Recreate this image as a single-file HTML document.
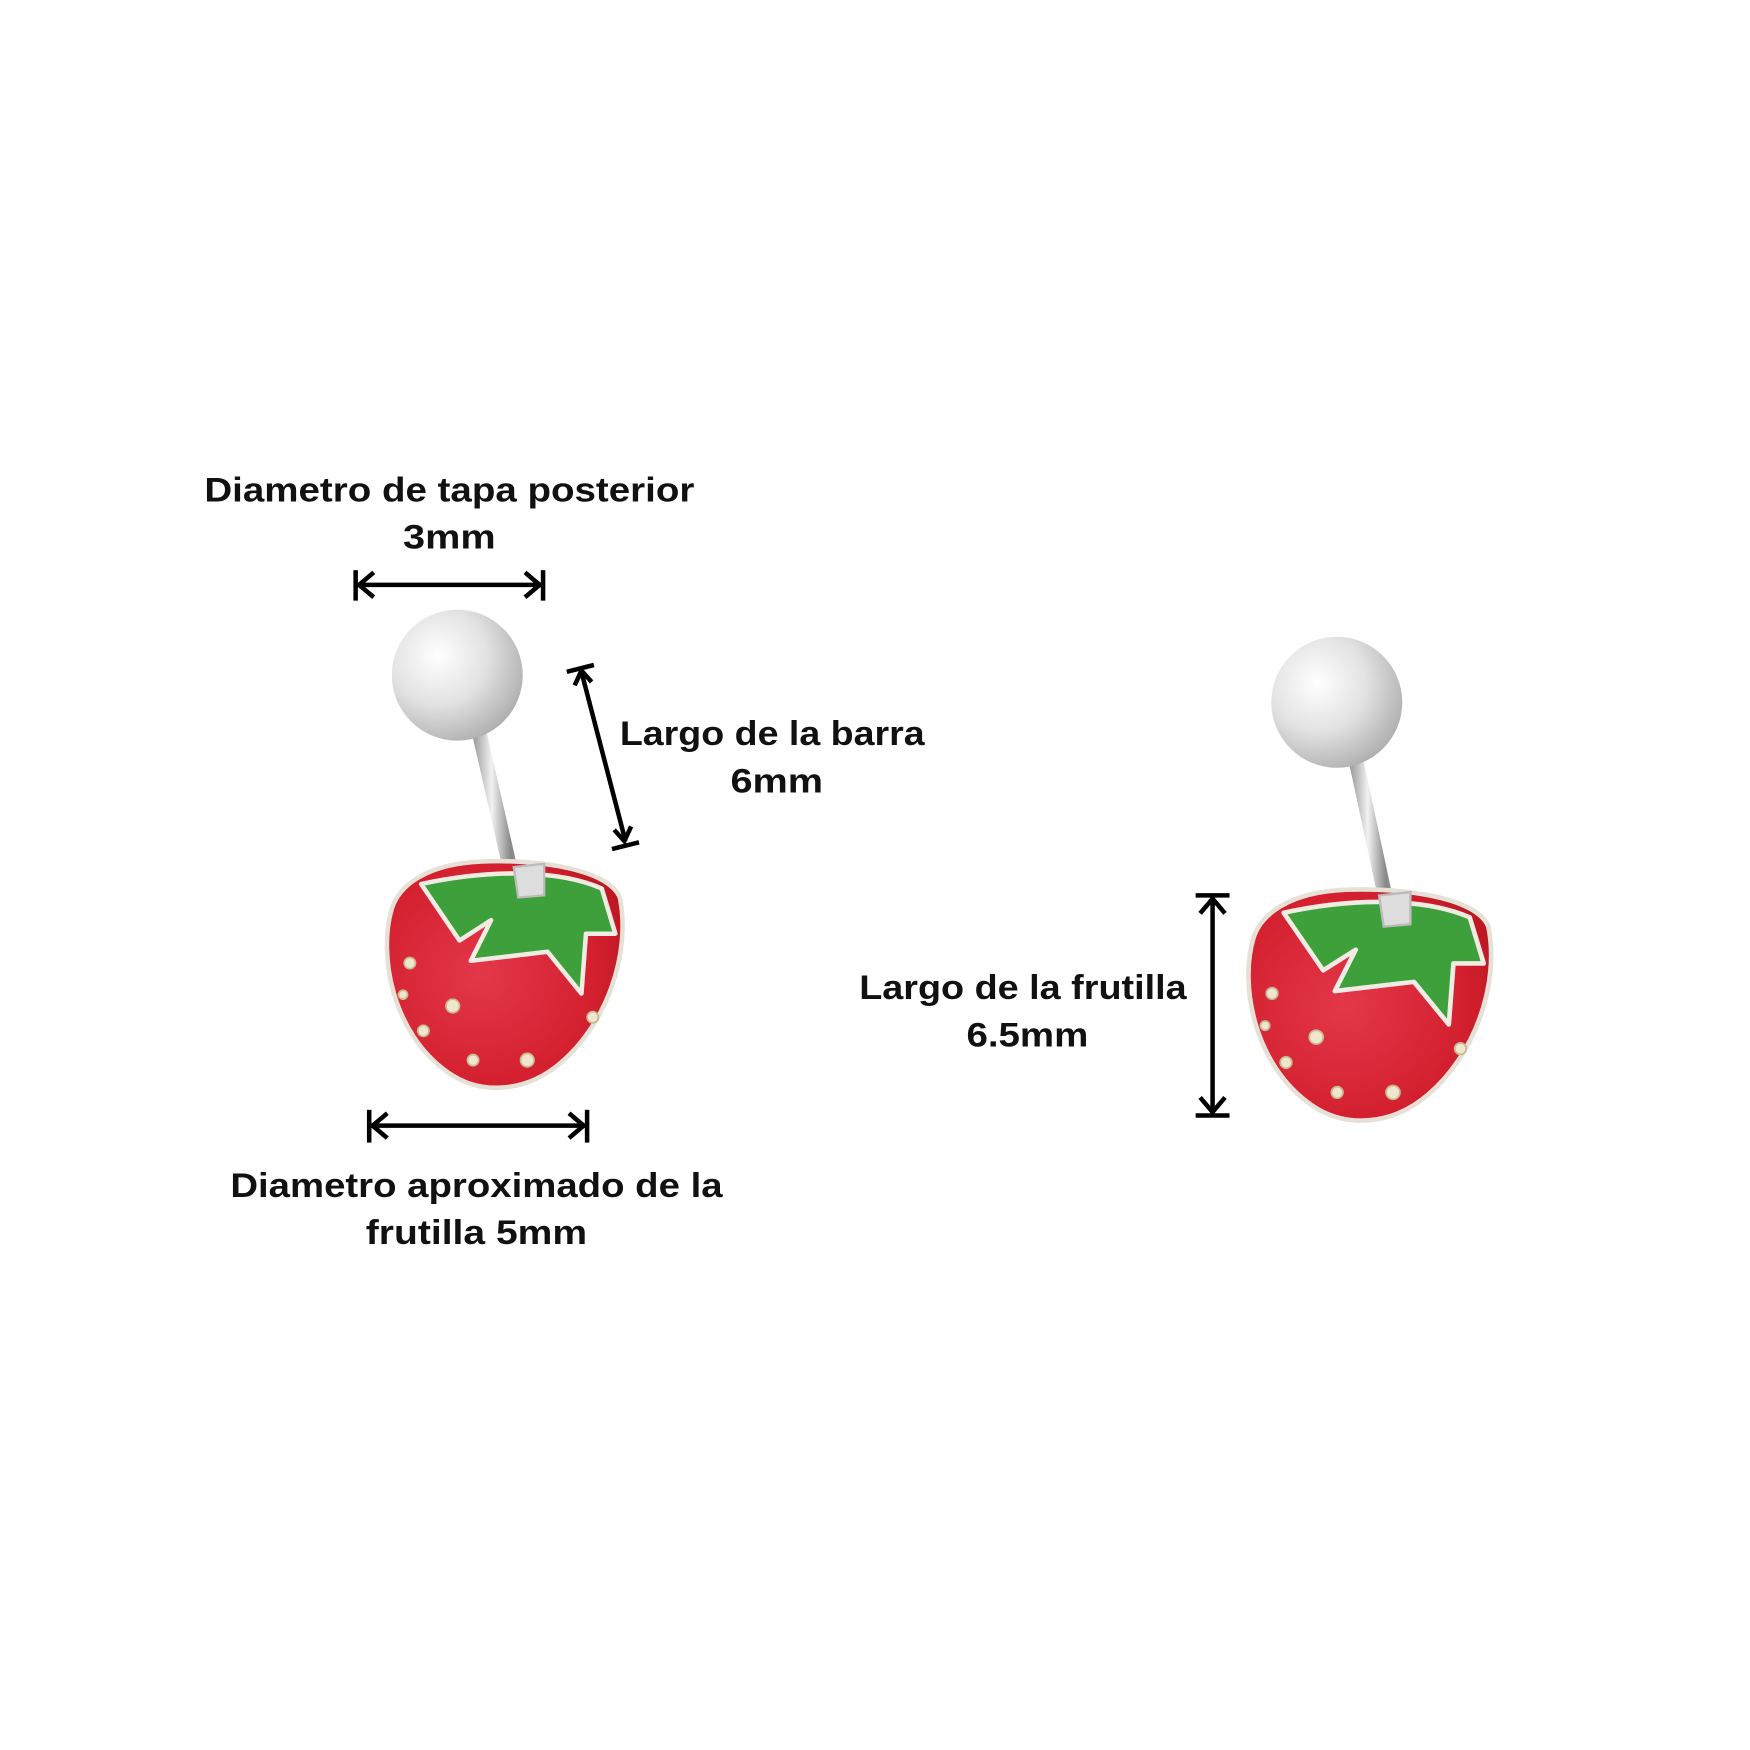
<!DOCTYPE html>
<html><head><meta charset="utf-8"><style>
html,body{margin:0;padding:0;background:#fff}
svg{display:block}
text{font-family:"Liberation Sans",sans-serif;font-weight:bold;font-size:30px;fill:#111;text-anchor:middle}
</style></head><body>
<svg width="1750" height="1750" viewBox="0 0 1550 1550" xmlns="http://www.w3.org/2000/svg">
<defs>
<radialGradient id="ball" cx="0.35" cy="0.35" r="0.75">
<stop offset="0" stop-color="#ffffff"/><stop offset="0.5" stop-color="#e2e2e2"/><stop offset="1" stop-color="#a9a9a9"/>
</radialGradient>
<linearGradient id="bar" x1="0" y1="0" x2="1" y2="0">
<stop offset="0" stop-color="#9a9a9a"/><stop offset="0.5" stop-color="#f2f2f2"/><stop offset="1" stop-color="#8a8a8a"/>
</linearGradient>
<radialGradient id="red" cx="0.4" cy="0.5" r="0.7">
<stop offset="0" stop-color="#e4374a"/><stop offset="0.7" stop-color="#d3202f"/><stop offset="1" stop-color="#b8151f"/>
</radialGradient>
<g id="berry">
<path d="M350 810 C338 850 350 920 400 955 C430 976 470 972 500 946 C540 912 562 850 552 800 C542 775 480 766 430 768 C380 770 356 790 350 810 Z" fill="url(#red)" stroke="#e6e0d6" stroke-width="4"/>
<path d="M376 788 L410 838 L438 820 L420 856 L488 848 L518 885 L522 832 L548 832 L536 792 C500 776 440 774 376 788 Z" fill="#3da03a" stroke="#f0ece4" stroke-width="4" stroke-linejoin="round"/>
<path d="M458 773 L462 800 L485 798 L485 770 Z" fill="#ddd" stroke="#bbb" stroke-width="2"/>
<g fill="#efe6cf" stroke="#c9b98f" stroke-width="1.5">
<circle cx="366" cy="858" r="5"/><circle cx="404" cy="896" r="6"/><circle cx="378" cy="918" r="5"/>
<circle cx="422" cy="944" r="5"/><circle cx="470" cy="944" r="6"/><circle cx="528" cy="906" r="5"/>
<circle cx="360" cy="886" r="4"/>
</g>
</g>
</defs>
<g transform="translate(-3,-5)">
<text x="401" y="449" textLength="434" lengthAdjust="spacingAndGlyphs">Diametro de tapa posterior</text>
<text x="401" y="491" textLength="82" lengthAdjust="spacingAndGlyphs">3mm</text>
<g stroke="#000" stroke-width="4" fill="none">
<line x1="320" y1="523" x2="482" y2="523"/>
<line x1="318" y1="510" x2="318" y2="537"/><line x1="484" y1="510" x2="484" y2="537"/>
<polyline points="334,512 321,523 334,534"/><polyline points="468,512 481,523 468,534"/>
</g>

<line x1="422" y1="630" x2="455" y2="775" stroke="url(#bar)" stroke-width="13"/>
<circle cx="408" cy="603" r="58" fill="url(#ball)"/>
<use href="#berry"/>

<g stroke="#000" stroke-width="4" fill="none">
<line x1="518" y1="600" x2="557" y2="750"/>
<line x1="505" y1="600" x2="529" y2="594"/><line x1="545" y1="757" x2="569" y2="751"/>
<polyline points="512,612 518,599 527,609"/><polyline points="547,740 556,750 562,737"/>
</g>
<text x="687" y="665" textLength="270" lengthAdjust="spacingAndGlyphs">Largo de la barra</text>
<text x="691" y="707" textLength="82" lengthAdjust="spacingAndGlyphs">6mm</text>

<g stroke="#000" stroke-width="4" fill="none">
<line x1="332" y1="1002" x2="521" y2="1002"/>
<line x1="330" y1="988" x2="330" y2="1017"/><line x1="523" y1="988" x2="523" y2="1017"/>
<polyline points="346,991 333,1002 346,1013"/><polyline points="507,991 520,1002 507,1013"/>
</g>
<text x="425" y="1065" textLength="436" lengthAdjust="spacingAndGlyphs">Diametro aproximado de la</text>
<text x="425" y="1107" textLength="196" lengthAdjust="spacingAndGlyphs">frutilla 5mm</text>

<line x1="1199" y1="655" x2="1230" y2="800" stroke="url(#bar)" stroke-width="13"/>
<circle cx="1187" cy="627" r="58" fill="url(#ball)"/>
<g transform="translate(763,25) scale(1.03 1.02) translate(-10,-15)"><use href="#berry"/></g>

<g stroke="#000" stroke-width="4" fill="none">
<line x1="1077" y1="800" x2="1077" y2="991"/>
<line x1="1062" y1="798" x2="1092" y2="798"/><line x1="1062" y1="993" x2="1092" y2="993"/>
<polyline points="1066,814 1077,801 1088,814"/><polyline points="1066,977 1077,990 1088,977"/>
</g>
<text x="909" y="890" textLength="290" lengthAdjust="spacingAndGlyphs">Largo de la frutilla</text>
<text x="913" y="932" textLength="108" lengthAdjust="spacingAndGlyphs">6.5mm</text>
</g>
</svg>
</body></html>
